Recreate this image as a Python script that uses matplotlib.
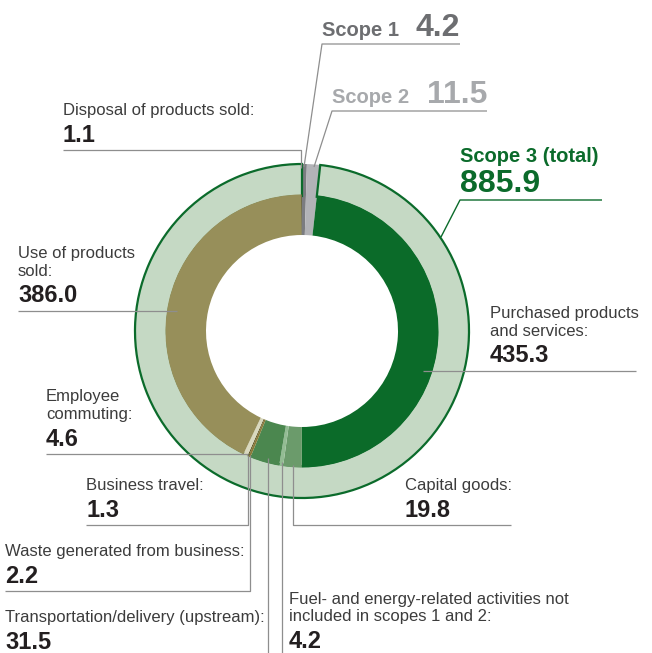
import matplotlib
matplotlib.use('Agg')
import matplotlib.pyplot as plt

plt.rcParams['font.family'] = ['Liberation Sans', 'DejaVu Sans']

# emissions by scope
scope_names = ['Scope 1', 'Scope 2', 'Scope 3 (total)']
scope_values = [4.2, 11.5, 885.9]

# scope 3 breakdown, clockwise from the top
cat_names = [
    'Purchased products\nand services:',
    'Capital goods:',
    'Fuel- and energy-related activities not\nincluded in scopes 1 and 2:',
    'Transportation/delivery (upstream):',
    'Waste generated from business:',
    'Business travel:',
    'Employee\ncommuting:',
    'Use of products\nsold:',
    'Disposal of products sold:',
]
cat_values = [435.3, 19.8, 4.2, 31.5, 2.2, 1.3, 4.6, 386.0, 1.1]

GREEN = '#0b6b2b'
LIGHT = '#c5d9c4'
S1 = '#7b7c80'
S2 = '#b2b3b7'
cat_colors = ['#0b6b29', '#6b9b6b', '#93bc93', '#4b874f',
              '#8a7a38', '#5e5522', '#d9d9bf', '#978f5a', '#6f6a45']

TXT = '#3c3c3c'
VAL = '#231f20'
LINE = '#8e8e8e'

cx, cy = 302, 331
R, RI, HOLE = 167, 135, 96

fig = plt.figure(figsize=(6.52, 6.53), dpi=100)
ax = fig.add_axes([0, 0, 1, 1])

pie_kw = dict(center=(cx, cy), startangle=-90, counterclock=True)

# scope 1 and 2 run across both rings
ax.pie(scope_values, radius=R, colors=[S1, S2, 'none'],
       wedgeprops=dict(width=R - HOLE, linewidth=0), **pie_kw)

# outer ring for scope 3
outer, _ = ax.pie(scope_values, radius=R, colors=['none', 'none', LIGHT],
                  wedgeprops=dict(width=R - RI, linewidth=0), **pie_kw)
outer[2].set_edgecolor(GREEN)
outer[2].set_linewidth(1.6)

# inner ring: scope 3 categories
ax.pie(scope_values[:2] + cat_values, radius=RI + 1.5,
       colors=['none', 'none'] + cat_colors,
       wedgeprops=dict(width=RI + 1.5 - HOLE, linewidth=0), **pie_kw)

ax.set_xlim(0, 652)
ax.set_ylim(653, 0)
ax.set_aspect('auto')
ax.axis('off')


def label(x, y, name, value, step=17.5, gap=27):
    lines = name.split('\n')
    for i, s in enumerate(lines):
        ax.text(x, y + i * step, s, fontsize=12, color=TXT, va='baseline')
    ax.text(x, y + (len(lines) - 1) * step + gap, f'{value:.1f}',
            fontsize=17, fontweight='bold', color=VAL, va='baseline')


def leader(xs, ys, color=LINE, lw=0.9):
    ax.plot(xs, ys, color=color, lw=lw, solid_capstyle='butt')


# labels and leader lines for the categories
label(490, 318, cat_names[0], cat_values[0])
leader([636, 423], [371, 371])

label(405, 490, cat_names[1], cat_values[1])
leader([511, 293, 293], [525, 525, 465])

label(289, 604, cat_names[2], cat_values[2])
leader([282, 282], [653, 462])

label(5, 622, cat_names[3], cat_values[3])
leader([268, 268], [653, 458])

label(5, 556, cat_names[4], cat_values[4])
leader([5, 250, 250], [591, 591, 455])

label(86, 490, cat_names[5], cat_values[5])
leader([86, 248, 248], [525, 525, 455])

label(46, 401, cat_names[6], cat_values[6])
leader([46, 248], [454, 454])

label(18, 258, cat_names[7], cat_values[7])
leader([18, 177], [311, 311])

label(63, 115, cat_names[8], cat_values[8])
leader([63, 301, 301], [150, 150, 168])

# scope headings
ax.text(322, 36, scope_names[0], fontsize=14.5, fontweight='bold', color='#6d6e71', va='baseline')
ax.text(460, 36, f'{scope_values[0]:.1f}', fontsize=23, fontweight='bold', color='#6d6e71',
        va='baseline', ha='right')
leader([460, 322, 304], [44, 44, 167])

ax.text(332, 103, scope_names[1], fontsize=14.5, fontweight='bold', color='#a7a9ac', va='baseline')
ax.text(487, 103, f'{scope_values[1]:.1f}', fontsize=23, fontweight='bold', color='#a7a9ac',
        va='baseline', ha='right')
leader([487, 332, 314], [111, 111, 167])

ax.text(460, 162, scope_names[2], fontsize=14.5, fontweight='bold', color=GREEN, va='baseline')
ax.text(460, 192, f'{scope_values[2]:.1f}', fontsize=23, fontweight='bold', color=GREEN,
        va='baseline')
leader([602, 460, 441], [200, 200, 237], color=GREEN, lw=1.0)

fig.savefig('out.png', dpi=100)
